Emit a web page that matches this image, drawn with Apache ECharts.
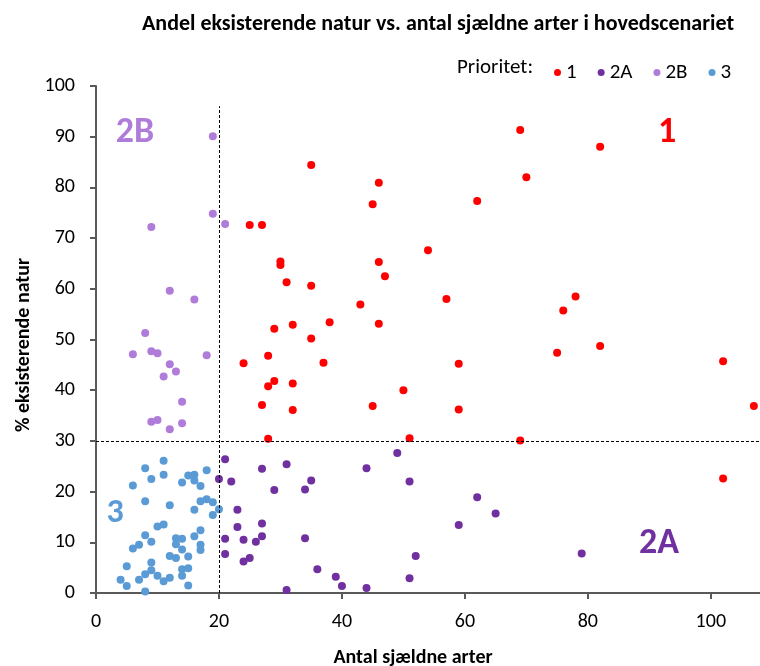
<!DOCTYPE html>
<html><head><meta charset="utf-8">
<script src="https://cdn.jsdelivr.net/npm/echarts@6/dist/echarts.min.js"></script>
<style>html,body{margin:0;padding:0;background:#fff}#c{width:760px;height:666px}</style>
</head><body><div id="c"></div>
<script>
const FONT = "Carlito, 'Liberation Sans Narrow', 'Open Sans', sans-serif";
const seriesNames = ['1', '2A', '2B', '3'];
const seriesColors = ['#FF0000', '#7030A0', '#B07CDA', '#5B9BD5'];
const p1X = [35,46,45,25,27,30,30,46,47,31,35,43,29,32,38,46,35,28,24,37,29,28,32,27,32,45,28,69,82,70,62,54,57,78,76,75,82,59,102,50,59,107,51,69,102];
const p1Y = [84.4,80.9,76.7,72.6,72.6,65.4,64.7,65.3,62.5,61.3,60.6,56.9,52.1,52.9,53.4,53.1,50.2,46.8,45.3,45.4,41.8,40.8,41.3,37.1,36.1,36.9,30.4,91.3,88.0,82.0,77.3,67.6,58.0,58.5,55.7,47.4,48.7,45.2,45.7,40.0,36.2,36.9,30.5,30.1,22.6];
const p2aX = [49,51,62,65,59,52,79,51,21,27,31,44,20,22,35,29,34,23,23,27,21,24,27,26,34,21,24,25,36,39,40,31,44];
const p2aY = [27.6,22.0,18.9,15.7,13.4,7.3,7.8,2.9,26.4,24.5,25.4,24.6,22.5,22.0,22.2,20.3,20.4,16.4,13.0,13.7,10.7,10.5,11.2,10.1,10.8,7.7,6.2,6.9,4.7,3.2,1.4,0.6,1.0];
const p2bX = [19,19,21,9,12,16,8,6,9,10,18,12,13,11,14,9,10,14,12];
const p2bY = [90.1,74.8,72.8,72.2,59.6,57.9,51.3,47.1,47.7,47.3,46.9,45.1,43.7,42.7,37.7,33.8,34.1,33.5,32.3];
const p3X = [11,8,11,9,6,15,16,14,16,17,18,8,12,16,17,18,19,20,19,10,11,17,8,16,13,14,9,13,17,17,7,6,14,12,13,15,9,5,14,15,9,8,10,7,11,12,14,4,5,15,8];
const p3Y = [26.1,24.6,23.3,22.5,21.2,23.2,23.3,21.8,22.2,21.1,24.2,18.1,17.3,16.4,18.1,18.5,17.9,16.5,15.4,13.1,13.5,12.4,11.4,11.2,10.8,10.7,10.1,9.6,9.5,8.5,9.5,8.8,8.6,7.3,6.9,7.2,6.0,5.3,4.7,4.9,4.5,3.7,3.4,2.6,2.3,3.0,3.4,2.6,1.4,1.5,0.3];
const xTicks = [0,20,40,60,80,100];
const xSplit = 20, ySplit = 30;

function pairs(xs, ys){ return xs.map((x,i)=>[x, ys[i]]); }
const allX = [p1X, p2aX, p2bX, p3X];
const allY = [p1Y, p2aY, p2bY, p3Y];

const chart = echarts.init(document.getElementById('c'), null, {renderer:'canvas'});
const AX = '#595959';
const series = seriesNames.map((n,i)=>({
  name:n, type:'scatter', data:pairs(allX[i], allY[i]), symbolSize:8,
  itemStyle:{color:seriesColors[i], opacity:1}, z: 3 + (i===0?1:0)
}));
series[0].markLine = {
  silent:true, symbol:'none', label:{show:false}, animation:false,
  lineStyle:{color:'#000', type:[3,2], width:1},
  data:[
    [{coord:[xSplit,0]},{coord:[xSplit,96]}],
    [{coord:[0,ySplit]},{coord:[108,ySplit]}]
  ]
};
chart.setOption({
  animation:false,
  textStyle:{fontFamily:FONT},
  title:{text:'Andel eksisterende natur vs. antal sjældne arter i hovedscenariet', left:433, textAlign:'center', top:8,
    textStyle:{fontFamily:FONT, fontSize:22, fontWeight:'bold', color:'#000'}},
  legend:{data:seriesNames, left:549, top:57, icon:'circle', itemWidth:7, itemHeight:7, itemGap:21,
    textStyle:{fontFamily:FONT, fontSize:21, color:'#000', padding:[0,0,0,0]}},
  grid:{left:96, right:0, top:86, bottom:73, containLabel:false},
  xAxis:{type:'value', min:0, max:108, interval:20, splitLine:{show:false},
    axisLine:{show:true, lineStyle:{color:AX, width:2}},
    axisLabel:{fontFamily:FONT, fontSize:20, color:'#000', margin:19, customValues:xTicks},
    axisTick:{show:true, length:6, lineStyle:{color:AX, width:2}, customValues:xTicks}},
  yAxis:{type:'value', min:0, max:100, interval:10, splitLine:{show:false},
    axisLine:{show:true, lineStyle:{color:AX, width:2}},
    axisTick:{show:true, length:6, lineStyle:{color:AX, width:2}},
    axisLabel:{fontFamily:FONT, fontSize:20, color:'#000', margin:21}},
  graphic:[
    {type:'text', x:457, y:68, style:{text:'Prioritet:', font:"21px "+FONT, fill:'#000', textVerticalAlign:'middle'}},
    {type:'text', x:413, y:658, style:{text:'Antal sjældne arter', font:"bold 20px "+FONT, fill:'#000', textAlign:'center', textVerticalAlign:'middle'}},
    {type:'text', x:24, y:345, rotation:Math.PI/2, style:{text:'% eksisterende natur', font:"bold 20px "+FONT, fill:'#000', textAlign:'center', textVerticalAlign:'middle'}},
    {type:'text', x:135, y:133, style:{text:'2B', font:"bold 36px "+FONT, fill:'#B07CDA', textAlign:'center', textVerticalAlign:'middle'}},
    {type:'text', x:667, y:133, style:{text:'1', font:"bold 36px "+FONT, fill:'#FF0000', textAlign:'center', textVerticalAlign:'middle'}},
    {type:'text', x:659, y:544, style:{text:'2A', font:"bold 36px "+FONT, fill:'#7030A0', textAlign:'center', textVerticalAlign:'middle'}},
    {type:'text', x:115, y:513, style:{text:'3', font:"bold 34px "+FONT, fill:'#5B9BD5', textAlign:'center', textVerticalAlign:'middle'}}
  ],
  series:series
});
</script></body></html>
